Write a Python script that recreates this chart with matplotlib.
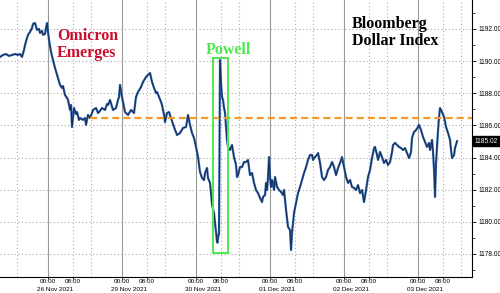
import matplotlib
matplotlib.use("Agg")
import matplotlib.pyplot as plt
from matplotlib.patches import Rectangle
import matplotlib.transforms as mtransforms

# session hours since 25 Nov 2021 00:00 (weekend removed)
hours = [8.43, 9.41, 10.38, 11.35, 12.32, 13.30, 14.27, 14.92, 15.57, 16.22, 16.54, 17.19, 17.51, 18.16,
         18.81, 19.14, 19.78, 20.43, 21.08, 21.41, 22.05, 22.38, 23.03, 23.35, 23.68, 24.00, 24.32, 24.97,
         25.62, 26.27, 26.92, 27.57, 27.89, 28.54, 28.86, 29.51, 30.16, 30.49, 31.14, 31.46, 31.78, 32.43,
         33.08, 33.41, 34.05, 34.38, 35.35, 36.00, 36.32, 36.97, 37.62, 38.27, 38.59, 39.57, 40.22, 40.54,
         41.51, 42.49, 43.14, 43.46, 44.11, 45.08, 46.05, 46.70, 47.03, 47.35, 48.00, 48.97, 49.95, 50.92,
         51.89, 52.54, 53.19, 54.16, 54.81, 55.78, 56.43, 57.08, 57.73, 58.38, 59.03, 59.35, 60.00, 60.65,
         60.97, 61.62, 61.95, 62.59, 63.24, 63.89, 64.86, 65.84, 66.81, 67.78, 68.76, 69.41, 70.05, 70.70,
         71.35, 72.00, 72.65, 73.30, 73.95, 74.59, 74.92, 75.57, 75.89, 76.54, 76.86, 77.19, 77.84, 78.16,
         78.49, 78.81, 78.97, 79.14, 79.46, 79.78, 80.11, 80.43, 80.76, 81.08, 81.41, 81.73, 82.05, 82.38,
         83.03, 83.68, 84.32, 84.97, 85.30, 85.62, 86.27, 86.92, 87.57, 88.22, 88.86, 89.51, 90.16, 90.81,
         91.46, 92.11, 92.76, 93.41, 93.73, 94.38, 94.70, 95.03, 95.35, 95.68, 96.00, 96.32, 96.65, 97.30,
         97.62, 98.27, 98.92, 99.57, 100.22, 100.54, 101.19, 101.84, 102.49, 102.81, 103.14, 103.78, 104.43,
         105.08, 105.73, 106.38, 107.03, 107.68, 108.32, 108.97, 109.62, 109.95, 110.59, 111.24, 111.57,
         112.22, 112.86, 113.51, 114.16, 114.81, 115.46, 116.11, 116.76, 117.41, 118.05, 118.70, 119.35,
         120.00, 120.65, 121.30, 121.95, 122.59, 123.24, 123.89, 124.54, 125.19, 125.84, 126.49, 127.14,
         127.78, 128.43, 129.08, 129.73, 130.05, 130.70, 131.03, 131.68, 132.32, 132.97, 133.62, 134.27,
         134.92, 135.57, 135.89, 136.54, 137.19, 137.84, 138.49, 139.14, 139.78, 140.43, 141.08, 141.73,
         142.05, 142.70, 143.35, 144.00, 144.32, 144.97, 145.62, 146.27, 146.92, 147.57, 147.89, 148.54,
         148.86, 149.19, 149.51, 149.84, 150.16, 150.49, 150.81, 151.14, 151.78, 152.43, 153.08, 153.73,
         154.38, 154.70, 155.03, 155.68, 156.00, 156.65]

values = [1190.26, 1190.38, 1190.44, 1190.32, 1190.38, 1190.44, 1190.38, 1190.44, 1190.26, 1190.69, 1191.00,
          1191.44, 1191.63, 1191.81, 1192.06, 1192.31, 1192.37, 1191.94, 1192.00, 1191.75, 1191.88, 1191.63,
          1191.69, 1192.06, 1192.37, 1191.81, 1191.32, 1190.57, 1190.07, 1189.57, 1189.14, 1188.70, 1188.52,
          1188.33, 1188.45, 1187.89, 1187.71, 1187.58, 1186.96, 1187.27, 1185.90, 1187.08, 1186.71, 1186.83,
          1186.34, 1186.46, 1186.34, 1186.46, 1186.03, 1186.65, 1186.46, 1186.77, 1186.96, 1187.08, 1186.77,
          1186.83, 1187.08, 1186.96, 1187.33, 1187.27, 1187.58, 1186.96, 1187.08, 1187.58, 1187.77, 1188.52,
          1187.77, 1186.83, 1186.65, 1186.96, 1186.77, 1187.77, 1188.08, 1188.39, 1188.70, 1189.01, 1189.14,
          1189.26, 1188.70, 1188.33, 1188.02, 1188.08, 1187.77, 1187.46, 1187.27, 1186.65, 1186.21, 1186.77,
          1186.83, 1186.46, 1185.90, 1185.40, 1185.53, 1185.84, 1185.90, 1186.65, 1186.03, 1185.53, 1185.22,
          1184.66, 1184.03, 1183.10, 1182.73, 1182.60, 1183.04, 1183.35, 1182.73, 1182.42, 1181.79, 1181.05,
          1180.55, 1179.93, 1179.37, 1178.74, 1178.70, 1178.99, 1179.31, 1190.07, 1188.64, 1187.77, 1187.58,
          1187.08, 1186.77, 1185.90, 1185.09, 1184.66, 1184.47, 1184.78, 1184.03, 1183.54, 1182.79, 1182.91,
          1183.41, 1183.41, 1183.72, 1183.72, 1183.85, 1182.91, 1183.04, 1182.42, 1181.98, 1181.79, 1181.48,
          1181.23, 1181.55, 1181.67, 1182.42, 1181.98, 1182.79, 1184.03, 1182.79, 1182.17, 1182.60, 1181.98,
          1182.79, 1182.17, 1181.98, 1181.86, 1181.67, 1181.98, 1180.74, 1179.68, 1179.49, 1178.25, 1179.31,
          1180.55, 1181.17, 1181.79, 1182.17, 1182.60, 1183.04, 1183.41, 1183.85, 1184.16, 1184.16, 1183.85,
          1184.03, 1184.16, 1184.28, 1183.66, 1182.79, 1182.60, 1182.79, 1183.23, 1183.41, 1183.72, 1183.41,
          1182.91, 1183.35, 1183.66, 1184.03, 1183.41, 1182.79, 1182.42, 1182.60, 1182.17, 1182.11, 1181.98,
          1182.29, 1181.79, 1181.98, 1181.23, 1181.98, 1182.79, 1183.23, 1183.97, 1184.59, 1184.66, 1184.16,
          1183.85, 1184.35, 1184.03, 1183.66, 1183.85, 1183.54, 1183.72, 1184.35, 1184.78, 1184.91, 1184.78,
          1184.66, 1184.59, 1184.47, 1184.59, 1184.28, 1183.97, 1184.35, 1185.22, 1185.59, 1185.71, 1185.90,
          1186.03, 1185.71, 1185.28, 1184.97, 1184.66, 1184.91, 1184.47, 1185.09, 1184.35, 1183.23, 1181.55,
          1183.66, 1184.66, 1185.71, 1186.52, 1187.08, 1186.83, 1186.52, 1185.90, 1185.53, 1185.09, 1184.47,
          1183.97, 1184.16, 1184.59, 1185.02]

day_starts = [24, 48, 72, 96, 120, 144]
day_labels = ["26 Nov 2021", "29 Nov 2021", "30 Nov 2021", "01 Dec 2021", "02 Dec 2021", "03 Dec 2021"]
time_labels = ["00:00", "08:00"]
y_ticks = [1178, 1180, 1182, 1184, 1186, 1188, 1190, 1192]
level_value = 1186.47
last_value = 1185.02
powell_window = (77.5, 82.4, 1178.05, 1190.2)

fig = plt.figure(figsize=(5.0, 2.93), dpi=100)
ax = fig.add_axes([0.0, 0.0563, 0.944, 0.9437])
ax.set_xlim(8.43, 161.5)
ax.set_ylim(1176.6, 1193.8)

for s in ["left", "top"]:
    ax.spines[s].set_visible(False)
for s in ["right", "bottom"]:
    ax.spines[s].set_color("black")
    ax.spines[s].set_linewidth(0.8)

# grid
for y in y_ticks:
    ax.axhline(y, color="#a8a8a8", lw=0.8, ls=(0, (1, 2.2)), zorder=0)
for d in day_starts:
    ax.axvline(d, color="#9a9a9a", lw=0.8, zorder=0)
dotted_x = [14] + [d + 8 for d in day_starts] + [d + 14 for d in day_starts]
for xv in dotted_x:
    ax.axvline(xv, color="#b0b0b0", lw=0.8, ls=(0, (1, 2.2)), zorder=0)

# series
ax.plot(hours, values, color="#2f62a8", lw=1.6, zorder=3)
ax.plot(hours, values, color="#0f1e3d", lw=0.6, alpha=0.85, zorder=4)

# level line
ax.plot([37.6, 161.5], [level_value, level_value], color="#f39a2b", lw=1.6,
        dashes=(3.2, 1.8), zorder=5)

# Powell box
x0, x1, y0, y1 = powell_window
ax.add_patch(Rectangle((x0, y0), x1 - x0, y1 - y0, fill=False, ec="#4fe84f", lw=1.4, zorder=6))

# annotations
serif = ["Liberation Serif", "DejaVu Serif"]
ax.text(26.9, 1191.3, "Omicron", color="#c8102e", fontsize=11.5, fontweight="bold",
        family=serif, ha="left", va="baseline")
ax.text(26.9, 1190.25, "Emerges", color="#c8102e", fontsize=11.5, fontweight="bold",
        family=serif, ha="left", va="baseline")
ax.text(82.5, 1190.45, "Powell", color="#4fe84f", fontsize=11.5, fontweight="bold",
        family=serif, ha="center", va="baseline")
ax.text(122.6, 1192.07, "Bloomberg", color="black", fontsize=11.5, fontweight="bold",
        family=serif, ha="left", va="baseline")
ax.text(122.6, 1191.0, "Dollar Index", color="black", fontsize=11.5, fontweight="bold",
        family=serif, ha="left", va="baseline")

# y axis on right
ax.yaxis.tick_right()
ax.set_yticks(y_ticks)
ax.set_yticklabels([f"{v:.2f}" for v in y_ticks], fontsize=4.8, family="Liberation Sans")
ax.set_yticks([v + 1 for v in y_ticks[:-1]] + [1177, 1193], minor=True)
ax.tick_params(axis="y", which="major", length=3, width=0.6, pad=1.5)
ax.tick_params(axis="y", which="minor", length=2, width=0.5)

# x axis
xt, xl = [], []
for d in day_starts:
    xt += [d, d + 8]
    xl += time_labels
ax.set_xticks(xt)
ax.set_xticklabels(xl, fontsize=4.6, family="Liberation Sans")
ax.tick_params(axis="x", which="major", length=1.5, width=0.6, pad=0.3)
trans = mtransforms.blended_transform_factory(ax.transData, ax.transAxes)
for d, lab in zip(day_starts, day_labels):
    ax.text(d + 2.2, -0.037, lab, transform=trans, fontsize=4.6, family="Liberation Sans",
            ha="center", va="top")

# last value tag
ax.text(1.006, last_value, f"{last_value:.2f}",
        transform=mtransforms.blended_transform_factory(ax.transAxes, ax.transData),
        color="white", fontsize=4.8, family="Liberation Sans", ha="left", va="center",
        bbox=dict(boxstyle="square,pad=0.25", fc="black", ec="black"))

fig.savefig("out.png", dpi=100)
